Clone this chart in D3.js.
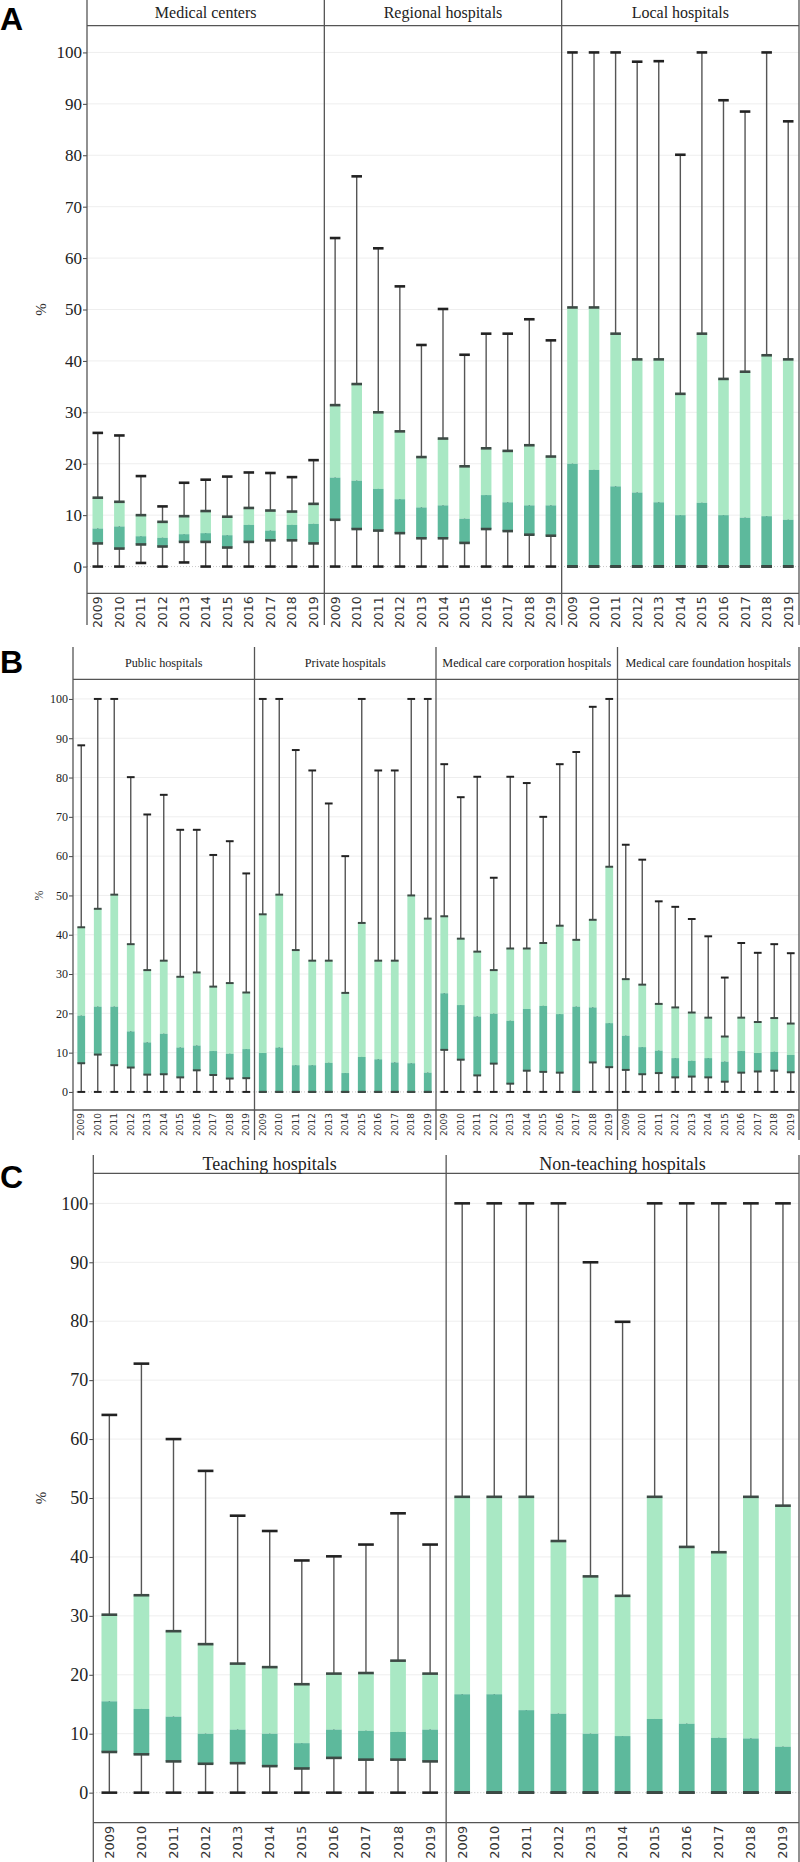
<!DOCTYPE html>
<html><head><meta charset="utf-8">
<script src="https://cdn.jsdelivr.net/npm/d3@7"></script>
<style>body{margin:0;background:#fff}svg{display:block}</style>
</head><body>
<svg id="chart" width="800" height="1862"></svg>
<script>
// ---------- DATA (rows per year: [min, q1, median, q3, max], in %) ----------
const years = ["2009","2010","2011","2012","2013","2014","2015","2016","2017","2018","2019"];
const yTicks = [0,10,20,30,40,50,60,70,80,90,100];

const facetsA = ["Medical centers","Regional hospitals","Local hospitals"];
const facetsB = ["Public hospitals","Private hospitals","Medical care corporation hospitals","Medical care foundation hospitals"];
const facetsC = ["Teaching hospitals","Non-teaching hospitals"];

const medicalCenters = [
  [0,4.5,7.4,13.4,26.0],[0,3.5,7.8,12.6,25.5],[0.7,4.3,5.9,10.0,17.6],[0,3.9,5.6,8.7,11.7],
  [0.8,4.8,6.3,9.8,16.3],[0,4.8,6.5,10.8,16.9],[0,3.7,6.1,9.7,17.5],[0,4.8,8.1,11.4,18.3],
  [0,5.1,7.0,10.9,18.2],[0,5.1,8.1,10.7,17.4],[0,4.5,8.3,12.2,20.7]];
const regionalHospitals = [
  [0,9.1,17.3,31.4,63.9],[0,7.3,16.7,35.5,75.9],[0,7.0,15.1,30.0,61.9],[0,6.5,13.1,26.3,54.5],
  [0,5.5,11.5,21.3,43.1],[0,5.5,11.9,24.9,50.1],[0,4.6,9.3,19.5,41.2],[0,7.3,13.9,23.0,45.3],
  [0,6.9,12.5,22.5,45.3],[0,6.2,11.9,23.6,48.1],[0,6.0,11.9,21.4,44.0]];
const localHospitals = [
  [0,0,20.0,50.4,100],[0,0,18.8,50.4,100],[0,0,15.6,45.3,100],[0,0,14.4,40.3,98.2],
  [0,0,12.5,40.3,98.3],[0,0,10.0,33.6,80.1],[0,0,12.4,45.3,100],[0,0,10.0,36.5,90.7],
  [0,0,9.5,37.9,88.5],[0,0,9.8,41.1,100],[0,0,9.1,40.3,86.6]];

const publicHospitals = [
  [0,7.3,19.4,41.9,88.2],[0,9.5,21.7,46.6,100],[0,6.8,21.7,50.2,100],[0,6.2,15.4,37.6,80.1],
  [0,4.4,12.6,31.0,70.6],[0,4.5,14.8,33.4,75.6],[0,3.7,11.3,29.3,66.7],[0,5.5,11.8,30.4,66.7],
  [0,4.3,10.4,26.8,60.3],[0,3.4,9.7,27.7,63.8],[0,3.5,10.9,25.3,55.6]];
const privateHospitals = [
  [0,0,9.9,45.2,100],[0,0,11.3,50.2,100],[0,0,6.8,36.1,87.0],[0,0,6.8,33.4,81.8],
  [0,0,7.4,33.4,73.4],[0,0,4.8,25.2,60.0],[0,0,8.9,43.0,100],[0,0,8.3,33.4,81.8],
  [0,0,7.5,33.4,81.8],[0,0,7.3,50.0,100],[0,0,4.9,44.1,100]];
const corporationHospitals = [
  [0,10.7,25.1,44.7,83.4],[0,8.2,22.1,39.0,75.0],[0,4.2,19.2,35.7,80.2],[0,7.2,19.9,31.0,54.5],
  [0,2.1,18.1,36.5,80.2],[0,5.4,21.1,36.5,78.6],[0,5.1,21.9,37.9,70.0],[0,4.9,19.8,42.3,83.4],
  [0,0,21.7,38.7,86.5],[0,7.5,21.5,43.8,98.0],[0,6.3,17.5,57.3,100]];
const foundationHospitals = [
  [0,5.6,14.3,28.7,62.9],[0,4.5,11.4,27.3,59.1],[0,4.8,10.5,22.4,48.5],[0,3.7,8.6,21.5,47.1],
  [0,3.9,7.9,20.2,44.0],[0,3.7,8.6,18.9,39.6],[0,2.6,7.7,14.1,29.1],[0,4.9,10.4,18.9,37.9],
  [0,5.2,9.9,17.8,35.4],[0,5.4,10.2,18.8,37.6],[0,5.0,9.4,17.4,35.3]];

const teachingHospitals = [
  [0,6.9,15.5,30.2,64.1],[0,6.5,14.2,33.5,72.8],[0,5.3,12.9,27.4,60.0],[0,4.9,10.0,25.2,54.6],
  [0,5.0,10.7,21.9,47.0],[0,4.5,10.0,21.3,44.4],[0,4.1,8.4,18.4,39.4],[0,5.9,10.7,20.2,40.1],
  [0,5.6,10.5,20.3,42.1],[0,5.6,10.3,22.4,47.4],[0,5.3,10.7,20.2,42.1]];
const nonTeachingHospitals = [
  [0,0,16.7,50.2,100],[0,0,16.7,50.2,100],[0,0,14.0,50.2,100],[0,0,13.4,42.7,100],
  [0,0,10.0,36.7,90.0],[0,0,9.6,33.4,79.9],[0,0,12.5,50.2,100],[0,0,11.7,41.7,100],
  [0,0,9.3,40.8,100],[0,0,9.2,50.2,100],[0,0,7.8,48.7,100]];

// ---------- LAYOUT ----------
const LIGHT = "#a9e8c4", DARK = "#5db99c";
const svg = d3.select("#chart");

const panels = [
  {letter:"A", letterY:30, names:facetsA, data:[medicalCenters,regionalHospitals,localHospitals],
   left:87, right:799, top:0, header:25.7, axisY:593.3, bottom:625, domain:[-5.2,105.2],
   headFont:16, tickFont:17, yearFont:12.5, pctFont:15, pctX:43, capW:2.6, barRatio:0.49},
  {letter:"B", letterY:673, names:facetsB, data:[publicHospitals,privateHospitals,corporationHospitals,foundationHospitals],
   left:73, right:799, top:647, header:679.3, axisY:1110, bottom:1140, domain:[-4.6,105],
   headFont:12.2, tickFont:12, yearFont:9, pctFont:12, pctX:40, capW:2, barRatio:0.47},
  {letter:"C", letterY:1188, names:facetsC, data:[teachingHospitals,nonTeachingHospitals],
   left:93.3, right:799, top:1155, header:1173.3, axisY:1822.7, bottom:1862, domain:[-5.1,105.1],
   headFont:18, tickFont:18, yearFont:13, pctFont:15, pctX:43, capW:2.6, barRatio:0.49}
];

panels.forEach(p => {
  const g = svg.append("g");
  const y = d3.scaleLinear().domain(p.domain).range([p.axisY, p.header]);
  const fx = d3.scaleBand().domain(p.names).range([p.left, p.right]);

  // panel letter
  g.append("text").attr("x", 0).attr("y", p.letterY)
    .attr("font-family", "Liberation Sans, Arial, sans-serif").attr("font-weight", "bold")
    .attr("font-size", 32).attr("fill", "#000").text(p.letter);

  // y label
  g.append("text").attr("transform", `translate(${p.pctX},${y(50)}) rotate(-90)`)
    .attr("text-anchor", "middle").attr("dominant-baseline", "middle")
    .attr("font-family", "Liberation Serif, Times New Roman, serif")
    .attr("font-size", p.pctFont).attr("fill", "#333").text("%");

  // gridlines
  g.append("g").selectAll("line").data(yTicks).join("line")
    .attr("x1", p.left).attr("x2", p.right)
    .attr("y1", d => y(d)).attr("y2", d => y(d))
    .attr("stroke", d => d === 0 ? "#c8c8c8" : "#eeeeee")
    .attr("stroke-width", 1)
    .attr("stroke-dasharray", d => d === 0 ? "1,2" : null);

  // y axis
  const ax = g.append("g").attr("transform", `translate(${p.left},0)`)
    .call(d3.axisLeft(y).tickValues(yTicks).tickSize(4).tickPadding(1));
  ax.select(".domain").remove();
  ax.selectAll(".tick line").attr("stroke", "#444");
  ax.selectAll(".tick text").attr("font-family", "Liberation Serif, Times New Roman, serif")
    .attr("font-size", p.tickFont).attr("fill", "#222");

  // horizontal frame lines
  g.append("line").attr("x1", p.left).attr("x2", p.right).attr("y1", p.header).attr("y2", p.header)
    .attr("stroke", "#555").attr("stroke-width", 1.3);
  g.append("line").attr("x1", p.left).attr("x2", p.right).attr("y1", p.axisY).attr("y2", p.axisY)
    .attr("stroke", "#555").attr("stroke-width", 1.3);

  // vertical facet lines
  const xs = p.names.map(n => fx(n)).concat([p.right]);
  g.append("g").selectAll("line").data(xs).join("line")
    .attr("x1", d => d).attr("x2", d => d).attr("y1", p.top).attr("y2", p.bottom)
    .attr("stroke", "#555").attr("stroke-width", 1.3);

  p.names.forEach((name, fi) => {
    const x = d3.scaleBand().domain(years).range([fx(name), fx(name) + fx.bandwidth()]);
    const bw = x.bandwidth() * p.barRatio;
    const fg = g.append("g");

    // header
    fg.append("text").attr("x", fx(name) + fx.bandwidth() / 2).attr("y", (p.top + p.header) / 2)
      .attr("text-anchor", "middle").attr("dominant-baseline", "central")
      .attr("font-family", "Liberation Serif, Times New Roman, serif")
      .attr("font-size", p.headFont).attr("fill", "#222").text(name);

    // year labels
    fg.append("g").selectAll("text").data(years).join("text")
      .attr("transform", d => `translate(${x(d) + x.bandwidth() / 2},${p.axisY + 3}) rotate(-90)`)
      .attr("text-anchor", "end").attr("dominant-baseline", "central")
      .attr("font-family", "DejaVu Sans, Verdana, sans-serif")
      .attr("font-size", p.yearFont).attr("fill", "#333").text(d => d);

    const rows = p.data[fi].map((r, i) => ({year: years[i], min: r[0], q1: r[1], med: r[2], q3: r[3], max: r[4]}));
    const cx = d => x(d.year) + x.bandwidth() / 2;

    // whiskers
    fg.append("g").selectAll("line").data(rows).join("line")
      .attr("x1", cx).attr("x2", cx).attr("y1", d => y(d.min)).attr("y2", d => y(d.max))
      .attr("stroke", "#555").attr("stroke-width", 1.4);

    // boxes
    fg.append("g").selectAll("rect").data(rows).join("rect")
      .attr("x", d => cx(d) - bw / 2).attr("width", bw)
      .attr("y", d => y(d.q3)).attr("height", d => y(d.med) - y(d.q3)).attr("fill", LIGHT);
    fg.append("g").selectAll("rect").data(rows).join("rect")
      .attr("x", d => cx(d) - bw / 2).attr("width", bw)
      .attr("y", d => y(d.med)).attr("height", d => y(d.q1) - y(d.med)).attr("fill", DARK);

    // caps
    ["min", "max", "q1", "q3"].forEach(k => {
      fg.append("g").selectAll("line").data(rows).join("line")
        .attr("x1", d => cx(d) - bw / 2).attr("x2", d => cx(d) + bw / 2)
        .attr("y1", d => y(d[k])).attr("y2", d => y(d[k]))
        .attr("stroke", (k === "q1" || k === "q3") ? "#3d4a45" : "#222")
        .attr("stroke-width", p.capW);
    });
  });
});
</script>
</body></html>
